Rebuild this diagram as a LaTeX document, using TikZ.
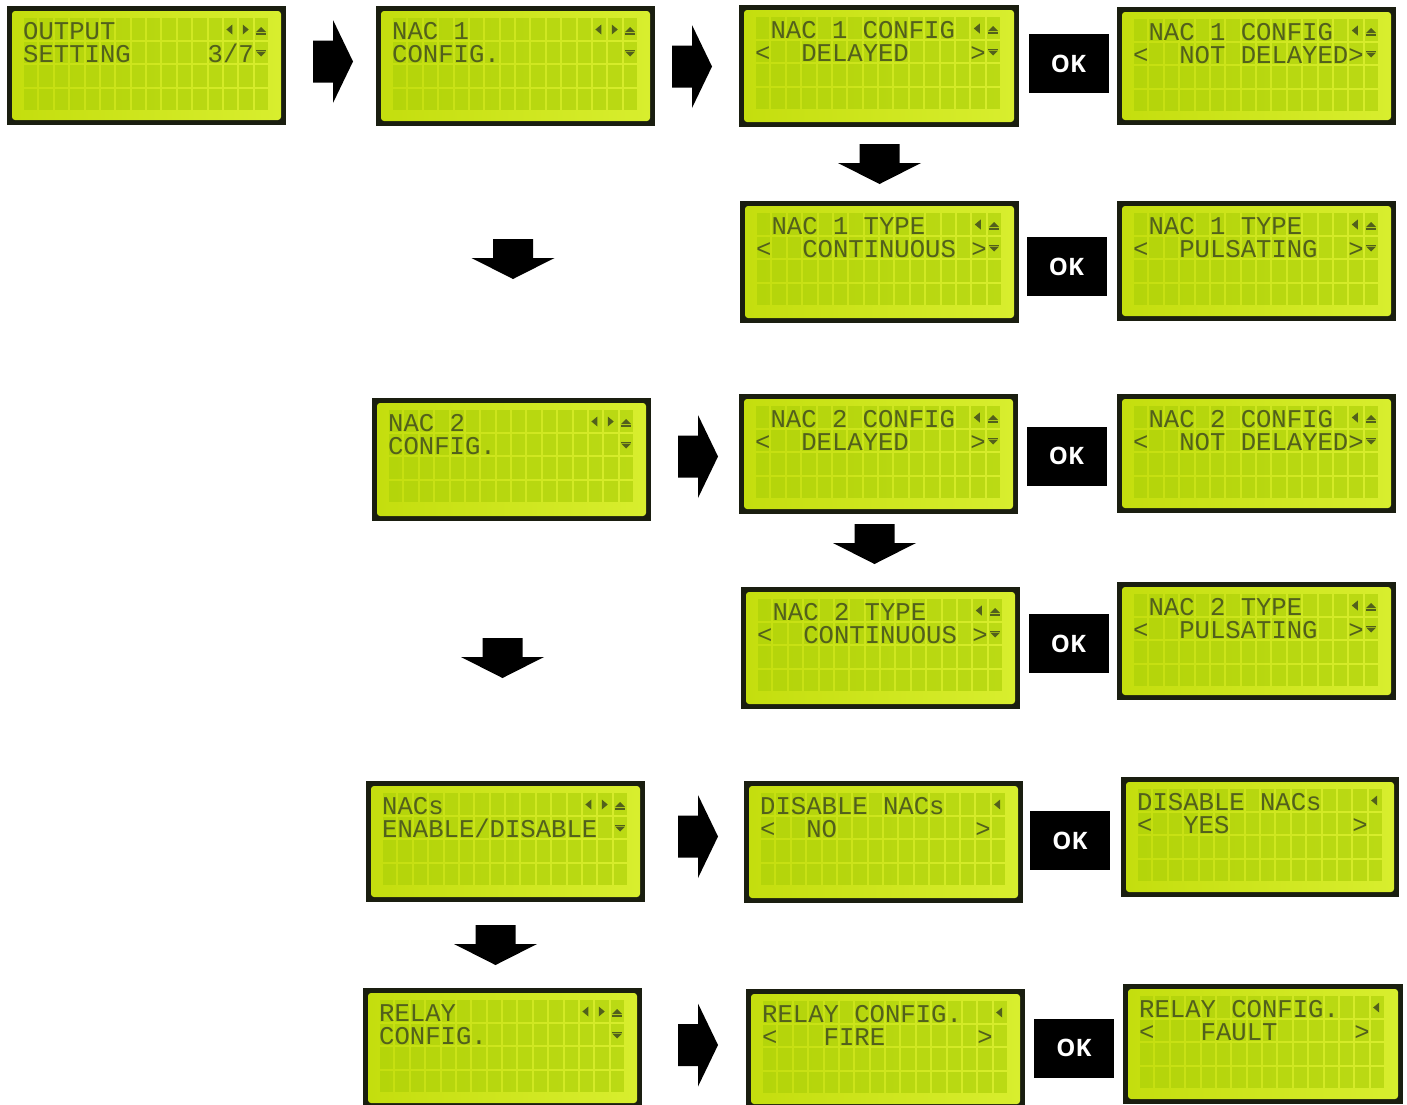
\documentclass[tikz,border=0pt]{standalone}
\usepackage{fontspec}
\usetikzlibrary{calc}
\newfontfamily\lcdfont{Liberation Mono}
\newfontfamily\okfont{Open Sans}

\definecolor{lcdframe}{RGB}{26,30,16}
\definecolor{glassL}{RGB}{196,222,14}
\definecolor{glassR}{RGB}{216,238,46}
\definecolor{lcdcell}{RGB}{172,208,8}
\definecolor{lcdink}{RGB}{82,96,28}

\tikzset{
  lcdbody/.style={fill=lcdframe, draw=none, inner sep=0, outer sep=0, anchor=north west},
  lcdtxt/.style={font=\lcdfont\fontsize{25.6}{26}\selectfont, text=lcdink, inner sep=0, anchor=base west},
  okbox/.style={fill=black, text=white, font=\okfont\bfseries\fontsize{24}{24}\selectfont,
    minimum width=80, minimum height=59, inner sep=0},
  blockarrow/.style={fill=black, draw=none},
}

% one 16x2 character display: name, left, top, width, height
\newcommand\lcdpanel[5]{%
  \node[lcdbody, minimum width=#4, minimum height=#5] (#1) at (#2,#3) {};
  \fill[left color=glassL, right color=glassR, rounded corners=3]
    ($(#1.north west)+(5,5)$) rectangle ($(#1.south east)+(-5,-5)$);
  \foreach \ri in {0,...,3} {\foreach \ci in {0,...,15} {
    \fill[lcdcell, fill opacity=0.65]
      ($(#1.north west)+(17+\ci*15.375,12+\ri*23.5)$) rectangle +(13.4,21.5);
  }}%
}
% text on a display: panel, row, column, text
\newcommand\lcdline[4]{%
  \node[lcdtxt] (#1-#2-#3) at ($(#1.north west)+(16+#3*15.375,33+#2*23.5)$) {#4};}
% display symbols: panel, row, column
\newcommand\symL[3]{\fill[lcdink] ($(#1.north west)+(17+#3*15.375+8.5,12+#2*23.5+6.5)$) -- ++(0,10) -- ++(-6,-5) -- cycle;}
\newcommand\symR[3]{\fill[lcdink] ($(#1.north west)+(17+#3*15.375+3.5,12+#2*23.5+6.5)$) -- ++(0,10) -- ++(6,-5) -- cycle;}
\newcommand\symU[3]{\fill[lcdink] ($(#1.north west)+(17+#3*15.375+1.5,12+#2*23.5+14)$) -- ++(10,0) -- ++(-5,-5) -- cycle;
  \fill[lcdink] ($(#1.north west)+(17+#3*15.375+1.5,12+#2*23.5+15)$) rectangle +(10,1.5);}
\newcommand\symD[3]{\fill[lcdink] ($(#1.north west)+(17+#3*15.375+1.5,12+#2*23.5+10)$) -- ++(10,0) -- ++(-5,5) -- cycle;
  \fill[lcdink] ($(#1.north west)+(17+#3*15.375+1.5,12+#2*23.5+8)$) rectangle +(10,1.5);}
% menu-level symbol set and option-level symbol set
\newcommand\menusyms[1]{\symL{#1}{0}{13}\symR{#1}{0}{14}\symU{#1}{0}{15}\symD{#1}{1}{15}}
\newcommand\optsyms[1]{\symL{#1}{0}{14}\symU{#1}{0}{15}\symD{#1}{1}{15}}
% option screen with brackets: panel, row-0 text, row-1 text, row-1 column
\newcommand\optscreen[4]{%
  \lcdline{#1}{0}{1}{#2}\lcdline{#1}{1}{0}{<}\lcdline{#1}{1}{#4}{#3}\lcdline{#1}{1}{14}{>}\optsyms{#1}}

% block arrows
\newcommand\rightblock[2]{% left x, centre y
  \fill[blockarrow] (#1,#2-21) -- (#1+20,#2-21) -- (#1+20,#2-41.5) -- (#1+40,#2)
    -- (#1+20,#2+41.5) -- (#1+20,#2+21) -- (#1,#2+21) -- cycle;}
\newcommand\downblock[2]{% centre x, top y
  \fill[blockarrow] (#1-20,#2) -- (#1+20,#2) -- (#1+20,#2+19) -- (#1+41.5,#2+19)
    -- (#1,#2+40) -- (#1-41.5,#2+19) -- (#1-20,#2+19) -- cycle;}

\begin{document}
\begin{tikzpicture}[x=1pt,y=-1pt]
\useasboundingbox (0,0) rectangle (1407,1104);
\clip (0,0) rectangle (1407,1104);
\fill[white] (0,0) rectangle (1407,1104);

% ---- displays ----
\lcdpanel{l1}{7}{6}{279}{119}
\lcdline{l1}{0}{0}{OUTPUT}\lcdline{l1}{1}{0}{SETTING}\lcdline{l1}{1}{12}{3/7}\menusyms{l1}

\lcdpanel{l2}{376}{6}{279}{120}
\lcdline{l2}{0}{0}{NAC 1}\lcdline{l2}{1}{0}{CONFIG.}\menusyms{l2}

\lcdpanel{l3}{739}{5}{280}{122}
\optscreen{l3}{NAC 1 CONFIG}{DELAYED}{3}

\lcdpanel{l4}{1117}{7}{279}{118}
\optscreen{l4}{NAC 1 CONFIG}{NOT DELAYED}{3}

\lcdpanel{l5}{740}{201}{279}{122}
\optscreen{l5}{NAC 1 TYPE}{CONTINUOUS}{3}

\lcdpanel{l6}{1117}{201}{279}{120}
\optscreen{l6}{NAC 1 TYPE}{PULSATING}{3}

\lcdpanel{l7}{372}{398}{279}{123}
\lcdline{l7}{0}{0}{NAC 2}\lcdline{l7}{1}{0}{CONFIG.}\menusyms{l7}

\lcdpanel{l8}{739}{394}{279}{120}
\optscreen{l8}{NAC 2 CONFIG}{DELAYED}{3}

\lcdpanel{l9}{1117}{394}{279}{119}
\optscreen{l9}{NAC 2 CONFIG}{NOT DELAYED}{3}

\lcdpanel{l10}{741}{587}{279}{122}
\optscreen{l10}{NAC 2 TYPE}{CONTINUOUS}{3}

\lcdpanel{l11}{1117}{582}{279}{118}
\optscreen{l11}{NAC 2 TYPE}{PULSATING}{3}

\lcdpanel{l12}{366}{781}{279}{121}
\lcdline{l12}{0}{0}{NACs}\lcdline{l12}{1}{0}{ENABLE/DISABLE}\menusyms{l12}

\lcdpanel{l13}{744}{781}{279}{122}
\lcdline{l13}{0}{0}{DISABLE NACs}\symL{l13}{0}{15}
\lcdline{l13}{1}{0}{<}\lcdline{l13}{1}{3}{NO}\lcdline{l13}{1}{14}{>}

\lcdpanel{l14}{1121}{777}{278}{120}
\lcdline{l14}{0}{0}{DISABLE NACs}\symL{l14}{0}{15}
\lcdline{l14}{1}{0}{<}\lcdline{l14}{1}{3}{YES}\lcdline{l14}{1}{14}{>}

\lcdpanel{l15}{363}{988}{279}{120}
\lcdline{l15}{0}{0}{RELAY}\lcdline{l15}{1}{0}{CONFIG.}\menusyms{l15}

\lcdpanel{l16}{746}{989}{279}{120}
\lcdline{l16}{0}{0}{RELAY CONFIG.}\symL{l16}{0}{15}
\lcdline{l16}{1}{0}{<}\lcdline{l16}{1}{4}{FIRE}\lcdline{l16}{1}{14}{>}

\lcdpanel{l17}{1123}{984}{280}{120}
\lcdline{l17}{0}{0}{RELAY CONFIG.}\symL{l17}{0}{15}
\lcdline{l17}{1}{0}{<}\lcdline{l17}{1}{4}{FAULT}\lcdline{l17}{1}{14}{>}

% ---- confirm keys ----
\node[okbox] (ok1) at (1068.5,63.5) {OK};
\node[okbox] (ok2) at (1066.5,266.5) {OK};
\node[okbox] (ok3) at (1066.5,456) {OK};
\node[okbox] (ok4) at (1068.5,643.5) {OK};
\node[okbox] (ok5) at (1070,840.5) {OK};
\node[okbox] (ok6) at (1074,1048) {OK};

% ---- flow arrows ----
\rightblock{313}{61.5}
\rightblock{672}{66.5}
\rightblock{678}{456.5}
\rightblock{678}{836.5}
\rightblock{678}{1045}
\downblock{879.5}{144}
\downblock{513}{239}
\downblock{874.5}{524}
\downblock{502.5}{638}
\downblock{495.5}{925}
\end{tikzpicture}
\end{document}
